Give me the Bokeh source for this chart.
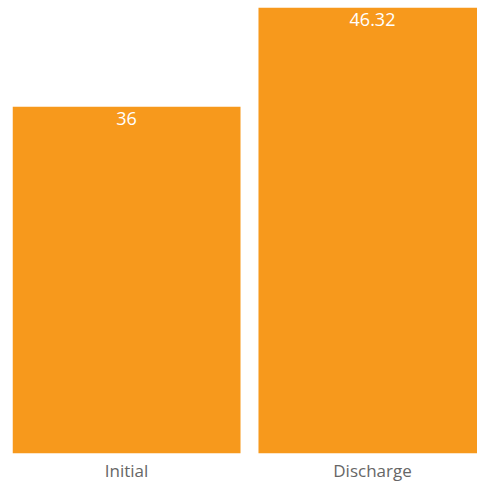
from bokeh.plotting import figure
from bokeh.models import ColumnDataSource, Range1d, FixedTicker
from bokeh.core.properties import value
from bokeh.embed import file_html
from bokeh.resources import INLINE

categories = ["Initial", "Discharge"]
values = [36, 46.32]
value_labels = ["36", "46.32"]

xs = list(range(len(categories)))
src = ColumnDataSource(dict(x=xs, top=values, label=value_labels))

p = figure(width=477, height=484, output_backend="svg", toolbar_location=None,
           x_range=Range1d(-0.4634, 1.4268), y_range=Range1d(0, 46.32),
           min_border_left=12, min_border_right=0, min_border_top=7, min_border_bottom=30)

p.vbar(x="x", top="top", bottom=0, width=0.927, source=src,
       fill_color="#F7991C", line_color=None)

p.text(x="x", y="top", text="label", source=src, text_align="center",
       text_baseline="top", y_offset=5, text_color="#FFFFFF",
       text_font=value("Open Sans"), text_font_size="18px")

p.yaxis.visible = False
p.xgrid.visible = False
p.ygrid.visible = False
p.outline_line_color = None
p.xaxis.ticker = FixedTicker(ticks=xs)
p.xaxis.major_label_overrides = {i: c for i, c in enumerate(categories)}
p.xaxis.axis_line_color = None
p.xaxis.major_tick_line_color = None
p.xaxis.minor_tick_line_color = None
p.xaxis.major_tick_out = 0
p.xaxis.major_tick_in = 0
p.xaxis.major_label_text_font = "Open Sans"
p.xaxis.major_label_text_font_size = "17px"
p.xaxis.major_label_text_color = "#666666"
p.xaxis.major_label_standoff = 5

open("out.html", "w").write(file_html(p, INLINE))
